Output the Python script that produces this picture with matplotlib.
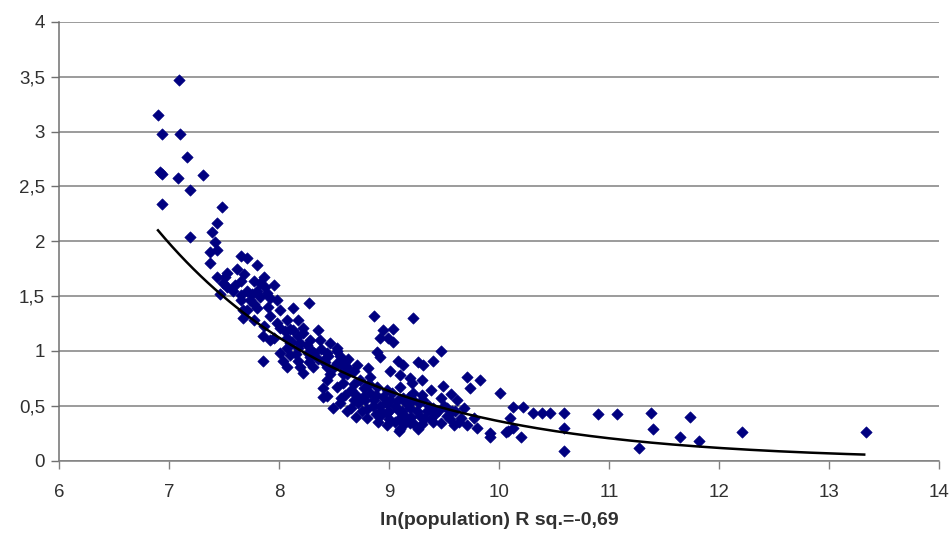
import numpy as np
import matplotlib
matplotlib.use("Agg")
import matplotlib.pyplot as plt
from matplotlib.ticker import FuncFormatter

plt.rcParams['font.family'] = ['Liberation Sans', 'DejaVu Sans']

# ---- data ----
x_upper = [7.09, 6.90, 6.94, 7.10, 7.16, 6.94, 6.92, 7.08, 7.31, 7.19, 6.94, 7.48,
           7.44, 7.39, 7.19, 7.42, 7.37, 7.44, 7.37]
y_upper = [3.47, 3.15, 2.98, 2.98, 2.77, 2.61, 2.63, 2.58, 2.60, 2.47, 2.34, 2.31,
           2.17, 2.08, 2.04, 1.99, 1.90, 1.92, 1.80]

x_band = [7.65, 7.71, 7.62, 7.80, 7.44, 7.51, 7.65, 7.77, 7.86, 7.53, 7.58, 7.71,
          7.80, 7.87, 7.46, 7.65, 7.74, 7.83, 7.71, 7.80, 7.53, 7.68, 7.83, 7.49,
          7.95, 7.89, 7.65, 7.92, 7.98, 8.27, 7.77, 7.67, 8.01, 8.13, 7.92, 7.67,
          7.77, 8.07, 8.17, 7.86, 8.01, 8.10, 8.22, 8.35, 7.85, 7.95, 8.07, 8.17,
          7.92, 8.28, 8.37, 8.07, 8.17, 8.46, 8.53, 8.01, 8.10, 7.85, 8.04, 8.17,
          8.26, 8.35, 8.40, 8.07, 8.19, 8.31, 8.44, 8.53, 8.62, 8.22, 8.46, 8.58,
          8.13, 8.22, 8.10, 8.19, 8.44, 8.28, 8.45, 8.55, 8.30, 8.60, 8.50,
          7.90, 7.98, 8.05, 8.12, 8.25, 8.32, 8.38, 8.42, 7.75, 7.60, 8.15, 8.27]
y_band = [1.87, 1.85, 1.75, 1.78, 1.67, 1.67, 1.64, 1.64, 1.67, 1.58, 1.55, 1.55,
          1.55, 1.58, 1.52, 1.46, 1.46, 1.49, 1.37, 1.39, 1.71, 1.70, 1.62, 1.62,
          1.60, 1.53, 1.51, 1.48, 1.46, 1.44, 1.43, 1.37, 1.37, 1.39, 1.32, 1.30,
          1.28, 1.28, 1.28, 1.23, 1.21, 1.20, 1.21, 1.19, 1.14, 1.12, 1.12, 1.14,
          1.10, 1.10, 1.10, 1.03, 1.03, 1.07, 1.03, 0.98, 0.96, 0.91, 0.91, 0.91,
          0.98, 0.93, 0.91, 0.85, 0.85, 0.85, 0.85, 0.89, 0.85, 0.80, 0.79, 0.79,
          1.19, 1.16, 1.07, 1.07, 0.98, 0.94, 0.95, 0.95, 1.00, 0.90, 0.85,
          1.40, 1.25, 1.18, 1.08, 1.05, 0.98, 1.02, 0.90, 1.52, 1.60, 0.97, 0.90]

x_core = [8.86, 9.22, 8.95, 9.04, 8.99, 8.92, 9.04, 8.53, 8.89, 8.63, 8.92, 8.56,
          8.71, 8.81, 9.08, 9.13, 9.01, 9.26, 8.62, 8.68, 8.44, 8.58, 8.74, 8.83,
          9.10, 9.19, 8.40, 8.53, 8.65, 8.77, 8.89, 8.98, 9.10, 9.22, 8.40, 8.56,
          8.68, 8.76, 8.86, 9.01, 9.13, 8.49, 8.65, 8.80, 8.92, 9.08, 9.19, 8.98,
          9.10, 9.22, 8.80, 8.92, 8.44, 8.70, 8.83, 8.95, 9.05, 9.15, 9.25, 9.35,
          9.00, 8.85, 8.72, 9.30, 9.45, 8.60, 8.90, 9.05, 9.15, 9.40, 9.55, 8.75,
          9.60, 8.55, 8.62, 8.70, 8.78, 8.88, 8.93, 8.97, 9.03, 9.08, 9.12, 9.18,
          9.20, 9.27, 9.32, 9.36, 9.42, 9.50, 9.57, 9.64, 8.82, 8.68, 9.00, 8.88,
          9.14, 9.30]
y_core = [1.32, 1.30, 1.19, 1.20, 1.12, 1.12, 1.08, 1.00, 0.99, 0.93, 0.94, 0.87,
          0.87, 0.84, 0.91, 0.87, 0.82, 0.90, 0.79, 0.82, 0.73, 0.71, 0.73, 0.76,
          0.78, 0.75, 0.66, 0.67, 0.64, 0.66, 0.67, 0.64, 0.67, 0.62, 0.58, 0.57,
          0.55, 0.58, 0.55, 0.55, 0.57, 0.48, 0.48, 0.47, 0.50, 0.46, 0.48, 0.32,
          0.29, 0.34, 0.39, 0.41, 0.59, 0.60, 0.62, 0.58, 0.50, 0.52, 0.45, 0.45,
          0.45, 0.50, 0.52, 0.60, 0.45, 0.60, 0.35, 0.35, 0.40, 0.35, 0.38, 0.45,
          0.45, 0.52, 0.45, 0.40, 0.55, 0.60, 0.45, 0.52, 0.62, 0.55, 0.45, 0.58,
          0.40, 0.52, 0.38, 0.50, 0.42, 0.50, 0.45, 0.35, 0.70, 0.70, 0.38, 0.42,
          0.33, 0.33]

x_right = [9.47, 9.31, 9.40, 9.71, 9.83, 9.21, 9.30, 9.74, 9.49, 10.01, 9.38, 9.56,
           9.22, 9.31, 9.47, 9.62, 9.40, 9.53, 9.68, 8.98, 9.10, 9.28, 9.38, 9.53,
           9.65, 9.77, 9.19, 9.26, 9.47, 9.59, 9.71, 9.80, 9.92, 10.08, 9.09, 9.92,
           10.13, 10.22, 10.10, 10.06, 10.13, 10.20, 10.31, 10.39, 10.46, 10.59,
           10.59, 10.59, 10.90, 11.07, 11.27, 11.38, 11.40, 11.65, 11.74, 11.82,
           12.21, 13.34]
y_right = [1.00, 0.87, 0.91, 0.76, 0.73, 0.71, 0.73, 0.66, 0.68, 0.62, 0.64, 0.61,
           0.55, 0.55, 0.57, 0.55, 0.48, 0.48, 0.48, 0.43, 0.39, 0.41, 0.39, 0.41,
           0.39, 0.39, 0.34, 0.29, 0.34, 0.32, 0.32, 0.30, 0.25, 0.27, 0.27, 0.21,
           0.49, 0.49, 0.39, 0.26, 0.30, 0.21, 0.43, 0.43, 0.43, 0.43,
           0.30, 0.09, 0.42, 0.42, 0.11, 0.43, 0.29, 0.21, 0.40, 0.18,
           0.26, 0.26]

# exponential trend line y = A * exp(B * x)
TREND_A = 107.2
TREND_B = -0.57
TREND_X_RANGE = [6.90, 13.32]

x_ticks = [6, 7, 8, 9, 10, 11, 12, 13, 14]
y_ticks = [0, 0.5, 1, 1.5, 2, 2.5, 3, 3.5, 4]
x_label = "ln(population) R sq.=-0,69"

# ---- plotting ----
fig = plt.figure(figsize=(9.53, 5.42), dpi=100)
ax = fig.add_axes([59 / 953, 1 - 460.5 / 542, (939 - 59) / 953, (460.5 - 22) / 542])

xs = x_upper + x_band + x_core + x_right
ys = y_upper + y_band + y_core + y_right
ax.scatter(xs, ys, marker='D', s=34, color='#000080', edgecolors='#000080',
           linewidths=0.4, zorder=3, clip_on=False)

tx = np.linspace(TREND_X_RANGE[0], TREND_X_RANGE[1], 200)
ax.plot(tx, TREND_A * np.exp(TREND_B * tx), color='black', lw=1.8, zorder=4)

ax.set_xlim(6, 14)
ax.set_ylim(0, 4)
ax.set_xticks(x_ticks)
ax.set_yticks(y_ticks)
fmt = FuncFormatter(lambda v, p: ('%g' % v).replace('.', ','))
ax.yaxis.set_major_formatter(fmt)
ax.xaxis.set_major_formatter(fmt)

ax.grid(axis='y', color='#808080', lw=1.1, zorder=1)
ax.set_axisbelow(True)
for s in ['top', 'right']:
    ax.spines[s].set_visible(False)
ax.spines['left'].set_color('#707070')
ax.spines['bottom'].set_color('#808080')
ax.spines['left'].set_linewidth(1.1)
ax.spines['bottom'].set_linewidth(1.1)

ax.tick_params(axis='y', direction='out', length=6, width=1, color='#707070',
               labelsize=13.5, labelcolor='#303030', pad=4)
ax.tick_params(axis='x', direction='out', length=6, width=1, color='#808080',
               labelsize=13.5, labelcolor='#303030', pad=11)

ax.set_xlabel(x_label, fontsize=14, fontweight='bold', color='#303030', labelpad=8)

fig.savefig('out.png', dpi=100, facecolor='white')
